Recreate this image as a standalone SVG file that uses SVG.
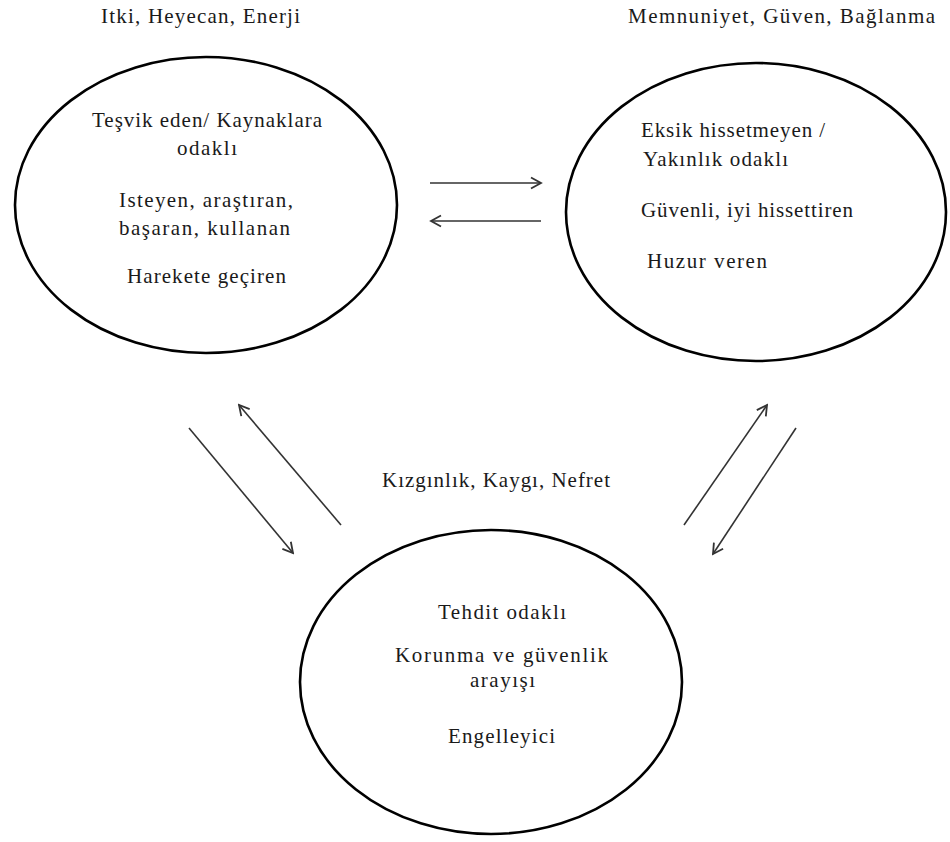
<svg xmlns="http://www.w3.org/2000/svg" width="950" height="842" viewBox="0 0 950 842">
<style>
  .bg { fill: #ffffff; }
  .node ellipse { fill: #ffffff; stroke: #000000; stroke-width: 2.6; }
  text { font-family: "Liberation Serif", "Times New Roman", serif; font-size: 21px; fill: #1a1a1a; }
  .conn line { stroke: #333333; stroke-width: 1.6; fill: none; marker-end: url(#arr); }
</style>
<defs>
  <marker id="arr" markerUnits="userSpaceOnUse" markerWidth="14" markerHeight="14" viewBox="0 0 14 14" refX="12" refY="7" orient="auto">
    <path d="M2,1.5 L12,7 L2,12.5" fill="none" stroke="#333333" stroke-width="1.8"/>
  </marker>
</defs>
<rect class="bg" x="0" y="0" width="950" height="842"/>

<g id="titles">
  <text x="101" y="23" textLength="199" lengthAdjust="spacing">Itki, Heyecan, Enerji</text>
  <text x="628" y="23" textLength="307" lengthAdjust="spacing">Memnuniyet, Güven, Bağlanma</text>
  <text x="382" y="487" textLength="228" lengthAdjust="spacing">Kızgınlık, Kaygı, Nefret</text>
</g>

<g id="node-left" class="node">
  <ellipse cx="206" cy="205" rx="191" ry="148"/>
  <text x="92" y="127" textLength="230" lengthAdjust="spacing">Teşvik eden/ Kaynaklara</text>
  <text x="177" y="155" textLength="60" lengthAdjust="spacing">odaklı</text>
  <text x="119" y="207" textLength="174" lengthAdjust="spacing">Isteyen, araştıran,</text>
  <text x="119" y="235" textLength="171" lengthAdjust="spacing">başaran, kullanan</text>
  <text x="127" y="283" textLength="159" lengthAdjust="spacing">Harekete geçiren</text>
</g>

<g id="node-right" class="node">
  <ellipse cx="756" cy="212" rx="190" ry="149"/>
  <text x="641" y="137" textLength="184" lengthAdjust="spacing">Eksik hissetmeyen /</text>
  <text x="643" y="166" textLength="145" lengthAdjust="spacing">Yakınlık odaklı</text>
  <text x="641" y="217" textLength="212" lengthAdjust="spacing">Güvenli, iyi hissettiren</text>
  <text x="647" y="268" textLength="120" lengthAdjust="spacing">Huzur veren</text>
</g>

<g id="node-bottom" class="node">
  <ellipse cx="491" cy="682" rx="191" ry="152"/>
  <text x="438" y="619" textLength="128" lengthAdjust="spacing">Tehdit odaklı</text>
  <text x="395" y="662" textLength="213" lengthAdjust="spacing">Korunma ve güvenlik</text>
  <text x="470" y="687" textLength="65" lengthAdjust="spacing">arayışı</text>
  <text x="448" y="743" textLength="107" lengthAdjust="spacing">Engelleyici</text>
</g>

<g id="connectors" class="conn">
  <line x1="430" y1="183" x2="541" y2="183"/>
  <line x1="541" y1="221" x2="431" y2="221"/>
  <line x1="189" y1="428" x2="293" y2="553"/>
  <line x1="341" y1="525" x2="239" y2="405"/>
  <line x1="684" y1="525" x2="767" y2="405"/>
  <line x1="796" y1="428" x2="713" y2="554"/>
</g>
</svg>
